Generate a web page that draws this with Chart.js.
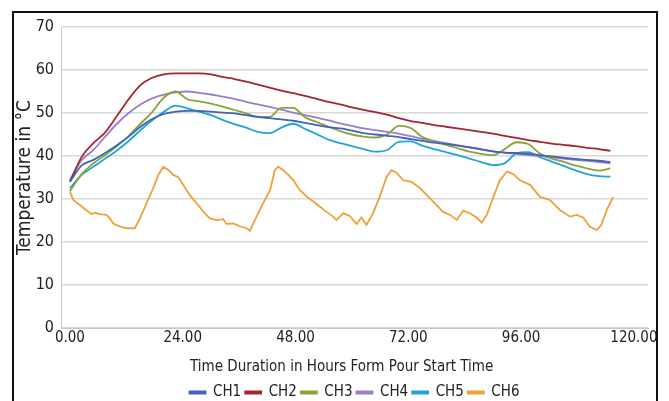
<!DOCTYPE html>
<html>
<head>
<meta charset="utf-8">
<script src="https://cdn.jsdelivr.net/npm/chart.js@4/dist/chart.umd.min.js"></script>
<style>
    html, body { margin: 0; padding: 0; background: #fff; }
    #wrap { position: relative; width: 669px; height: 401px; overflow: hidden; }
    #frame { position: absolute; left: 12px; top: 11px; width: 646px; height: 400px;
             border: 2px solid #111; border-bottom: none; box-sizing: border-box; }
    canvas { position: absolute; left: 0; top: 0; }
</style>
</head>
<body>
<div id="wrap">
    <canvas id="chart-temp" width="669" height="401"></canvas>
    <div id="frame"></div>
</div>
<script>
// Horas desde el inicio del vaciado (canales CH1-CH5)
const hours = [0, 2.5, 5, 7.5, 10, 12.5, 15, 17.5, 20, 22.5, 25, 27.5, 30, 32.5, 35, 37.5, 40, 42.5, 45, 47.5,
    50, 52.5, 55, 57.5, 60, 62.5, 65, 67.5, 70, 72.5, 75, 77.5, 80, 82.5, 85, 87.5, 90, 92.5, 95, 97.5,
    100, 102.5, 105, 107.5, 110, 112.5, 115];

const ch1 = [34, 37.8, 39.1, 40.7, 42.5, 44.5, 46.8, 48.6, 49.8, 50.3, 50.5, 50.5, 50.3, 50.1, 49.9, 49.5, 49.1, 48.8, 48.5, 48.2,
    47.7, 47.2, 46.7, 46.4, 45.9, 45.3, 45, 44.7, 44.4, 43.9, 43.5, 43.1, 42.8, 42.4, 42, 41.6, 41.1, 40.8, 40.7, 40.5,
    40.2, 39.9, 39.6, 39.3, 39.1, 38.9, 38.6];

const ch2 = [34, 39.8, 43, 45.5, 49.3, 53.2, 56.5, 58.2, 59, 59.2, 59.2, 59.2, 59, 58.4, 57.9, 57.3, 56.6, 55.9, 55.2, 54.6,
    54, 53.3, 52.6, 52, 51.3, 50.7, 50.2, 49.6, 48.8, 48.1, 47.7, 47.2, 46.8, 46.4, 46, 45.6, 45.2, 44.7, 44.2, 43.7,
    43.3, 42.9, 42.6, 42.3, 41.9, 41.6, 41.2];

const ch3 = [31.8, 35.8, 38.3, 40.2, 42.3, 44.7, 47.5, 50.2, 53.6, 55, 53.2, 52.7, 52.2, 51.5, 50.7, 49.9, 49.1, 49.1, 51.2, 51.2,
    49, 47.9, 46.8, 45.8, 45, 44.5, 44.3, 45, 47, 46.5, 44.4, 43.4, 42.6, 41.8, 41, 40.5, 40.2, 41.6, 43.2, 42.8,
    40.6, 39.4, 38.7, 37.8, 37.1, 36.6, 37.1];

const ch4 = [34.5, 39, 41.4, 44.5, 47.5, 50, 52, 53.4, 54.3, 54.8, 55, 54.7, 54.3, 53.8, 53.3, 52.6, 52, 51.4, 50.8, 50.1,
    49.5, 48.9, 48.3, 47.6, 47, 46.4, 46, 45.6, 45.2, 44.6, 44, 43.5, 43, 42.5, 42, 41.5, 41.1, 40.8, 40.5, 40.2,
    40, 39.7, 39.4, 39.1, 38.9, 38.6, 38.3];

const ch5 = [32.5, 35.6, 37.5, 39.4, 41.3, 43.5, 46, 48.3, 50.3, 51.7, 51.1, 50.3, 49.5, 48.4, 47.4, 46.6, 45.6, 45.3, 46.6, 47.5,
    46.3, 45.1, 43.8, 43, 42.3, 41.6, 41, 41.4, 43.3, 43.4, 42.4, 41.6, 40.9, 40.2, 39.4, 38.6, 37.9, 38.3, 40.6, 40.9,
    39.7, 38.7, 37.7, 36.7, 35.8, 35.3, 35.2];

// CH6 (temperatura ambiente) con más detalle
const ch6Hours = [0, 0.7, 2.1, 3.5, 4.6, 5.3, 6.4, 7.8, 8.5, 9.2, 10.6, 12, 13.8, 14.9, 16.3, 17.7, 18.8, 19.9, 21, 22,
    23.1, 24.1, 25.5, 27, 28.4, 29.8, 31.2, 32.6, 33.3, 34.8, 36.2, 37.6, 38.3, 39.7, 41.1, 42.6, 43.6, 44.3, 45.4, 46.5,
    47.5, 48.9, 50.4, 51.8, 53.2, 54.6, 56, 56.7, 58.2, 59.6, 61, 62, 63.1, 64.5, 65.9, 67.4, 68.4, 69.5, 70.9, 72.7,
    74.5, 76.6, 78, 79.4, 80.9, 82.3, 83.7, 85.1, 86.5, 87.6, 88.7, 90.1, 91.5, 93, 94.3, 95.7, 97.9, 100, 102.1, 104.3,
    106.4, 107.8, 109.2, 110.6, 112.1, 113.1, 114.2, 115.6];
const ch6 = [31.7, 29.8, 28.6, 27.4, 26.5, 26.8, 26.5, 26.3, 25.5, 24.3, 23.6, 23.2, 23.2, 25.5, 29, 32.5, 35.6, 37.5, 36.7, 35.6,
    35, 33.3, 30.9, 29, 27, 25.5, 25.1, 25.3, 24.2, 24.3, 23.6, 23.2, 22.6, 25.9, 29, 32.1, 36.7, 37.5, 36.7, 35.6,
    34.4, 32.1, 30.5, 29.4, 28.2, 27, 25.9, 25.1, 26.7, 26, 24.2, 25.7, 24, 26.7, 30.5, 35.2, 36.7, 36.1, 34.4, 34,
    32.5, 30.2, 28.6, 27, 26.3, 25.1, 27.3, 26.7, 25.7, 24.5, 26.3, 30.5, 34.4, 36.4, 35.8, 34.4, 33.3, 30.5, 29.8, 27.4,
    25.9, 26.3, 25.7, 23.6, 22.8, 24, 27.4, 30.5];

const tickHours = [0, 24, 48, 72, 96, 120];

const fontFamily = "'DejaVu Sans Condensed', 'Liberation Sans', sans-serif";

function serie(label, xs, ys, color, smooth) {
    return {
        label: label,
        data: xs.map((x, i) => ({ x: x, y: ys[i] })),
        borderColor: color,
        backgroundColor: color,
        borderWidth: 1.8,
        pointRadius: 0,
        cubicInterpolationMode: smooth ? 'monotone' : 'default',
        tension: 0,
        fill: false,
    };
}

const ctx = document.getElementById('chart-temp').getContext('2d');
const chart = new Chart(ctx, {
    type: 'line',
    data: {
        datasets: [
            serie('CH1', hours, ch1, '#3f64b8', true),
            serie('CH2', hours, ch2, '#a2262f', true),
            serie('CH3', hours, ch3, '#8aa437', true),
            serie('CH4', hours, ch4, '#9d7ccb', true),
            serie('CH5', hours, ch5, '#22a5d6', true),
            serie('CH6', ch6Hours, ch6, '#f0a03a', false),
        ]
    },
    options: {
        responsive: false,
        animation: false,
        layout: { padding: { left: 0, right: 21, top: 27, bottom: -9 } },
        plugins: {
            legend: {
                display: true,
                position: 'bottom',
                fullSize: false,
                labels: {
                    boxWidth: 16,
                    boxHeight: 2,
                    padding: 4,
                    color: '#222',
                    font: { family: fontFamily, size: 15 },
                }
            },
            tooltip: { enabled: false }
        },
        scales: {
            x: {
                type: 'linear',
                min: -1.9,
                max: 123,
                afterBuildTicks: (scale) => { scale.ticks = tickHours.map((v) => ({ value: v })); },
                afterFit: (scale) => { scale.height = 53; },
                grid: { display: false, drawTicks: false },
                border: { display: true, color: '#c8c8c8', width: 1 },
                ticks: {
                    autoSkip: false,
                    maxRotation: 0,
                    padding: 1,
                    color: '#222',
                    font: { family: fontFamily, size: 15 },
                    callback: (v) => Number(v).toFixed(2),
                },
                title: {
                    display: true,
                    text: 'Time Duration in Hours Form Pour Start Time      ',
                    color: '#222',
                    padding: { top: 0, bottom: 5 },
                    font: { family: fontFamily, size: 15 },
                }
            },
            y: {
                min: 0,
                max: 70,
                afterFit: (scale) => { scale.width = 61; },
                grid: { color: '#d9d9d9', lineWidth: 1.5, drawTicks: false },
                border: { display: true, color: '#c8c8c8', width: 1 },
                ticks: {
                    stepSize: 10,
                    padding: 7,
                    color: '#222',
                    font: { family: fontFamily, size: 16 },
                },
                title: {
                    display: true,
                    text: 'Temperature in °C',
                    color: '#222',
                    padding: { top: 14, bottom: 0 },
                    font: { family: fontFamily, size: 19 },
                }
            }
        }
    }
});
</script>
</body>
</html>
